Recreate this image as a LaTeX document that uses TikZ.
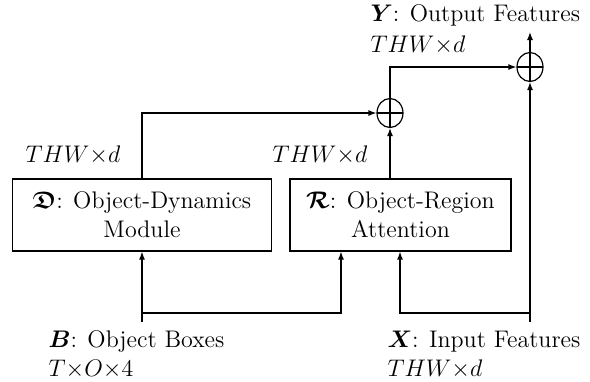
\documentclass[tikz,border=0pt]{standalone}
\usepackage{amsmath,amssymb}
\usetikzlibrary{arrows.meta,shapes.geometric}

\begin{document}
\begin{tikzpicture}[
                    x=0.5pt, y=-0.5pt,
                    semithick,
                    >={Latex[length=4pt,width=3pt]},
                    font=\fontsize{12}{14.5}\selectfont,
                    module/.style={draw, align=center, minimum height=36pt, inner sep=0pt},
                    plus/.style={draw, ellipse, minimum width=13pt, minimum height=14.5pt, inner sep=0pt,
                        path picture={\draw (path picture bounding box.north) -- (path picture bounding box.south)
                                            (path picture bounding box.west) -- (path picture bounding box.east);}},
                    txt/.style={anchor=base west, inner sep=0pt}
                ]
                \useasboundingbox (0,0) rectangle (590,381);

                \node (D) [module, minimum width=129.5pt] at (142,215) {$\boldsymbol{\mathfrak{D}}$: Object-Dynamics\\Module} ;
                \node (R) [module, minimum width=110.5pt] at (400.5,215) {$\boldsymbol{\mathcal{R}}$: Object-Region\\Attention} ;
                \node (p1) [plus] at (390,113) {} ;
                \node (p2) [plus] at (530,67) {} ;

                \node (dimD) [txt] at (25,162) {$THW{\times}d$} ;
                \node (dimR) [txt] at (272,162) {$THW{\times}d$} ;
                \node (ylab) [txt] at (370,21) {$\boldsymbol{Y}$: Output Features} ;
                \node (ydim) [txt] at (370,52) {$THW{\times}d$} ;
                \node (blab) [txt] at (48,347) {$\boldsymbol{B}$: Object Boxes} ;
                \node (bdim) [txt] at (48,376) {$T{\times}O{\times}4$} ;
                \node (xlab) [txt] at (387,347) {$\boldsymbol{X}$: Input Features} ;
                \node (xdim) [txt] at (387,376) {$THW{\times}d$} ;

                \coordinate (bin) at (142,322) ;
                \coordinate (xin) at (530,322) ;
                \coordinate (yout) at (530,32) ;

                % inputs
                \draw[->] (bin) -- (D.south) ;
                \draw[->] (bin |- 0,313) -| (R.south -| 341,0) ;
                \draw[->] (xin) -- (p2) ;
                \draw[->] (xin |- 0,313) -| (R.south -| 400,0) ;

                % outputs
                \draw[->] (D.north) |- (p1) ;
                \draw[->] (R.north -| p1) -- (p1) ;
                \draw[->] (p1) |- (p2) ;
                \draw[->] (p2) -- (yout) ;
            \end{tikzpicture}
\end{document}
